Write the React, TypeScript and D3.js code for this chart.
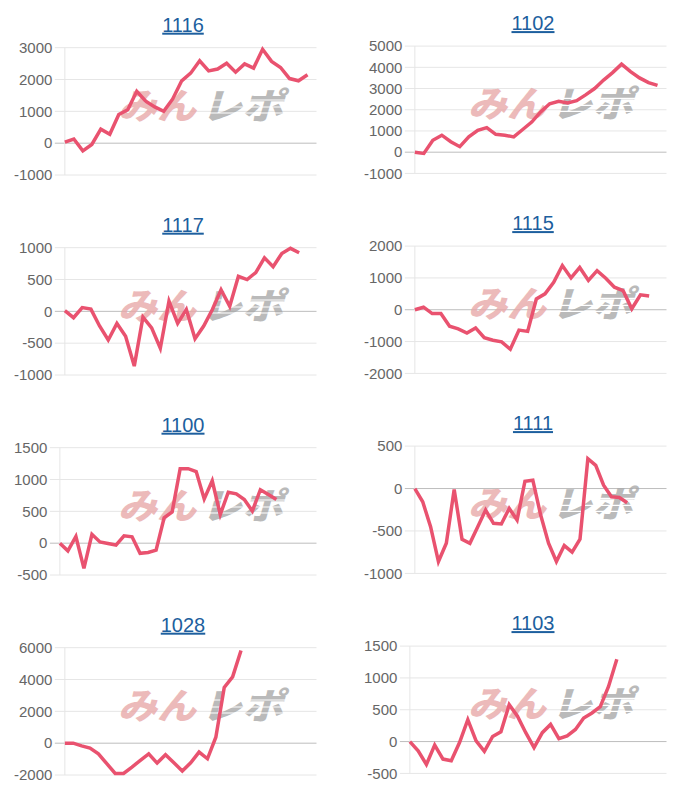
import React from 'react';
import * as d3 from 'd3';

// ---- data ----
const titles = ['1116', '1102', '1117', '1115', '1100', '1111', '1028', '1103'];

const s1116 = [30, 130, -240, -40, 440, 280, 900, 1050, 1630, 1320, 1140, 1000, 1390, 1960, 2200, 2590, 2270, 2330, 2510, 2230, 2490, 2360, 2950, 2570, 2380, 2030, 1960, 2150];
const s1102 = [0, -60, 560, 800, 490, 260, 720, 1030, 1160, 840, 800, 720, 1070, 1420, 1900, 2280, 2400, 2320, 2430, 2700, 3000, 3400, 3750, 4150, 3800, 3500, 3280, 3150];
const s1117 = [10, -100, 60, 35, -230, -450, -190, -390, -860, -90, -260, -580, 160, -190, 30, -430, -230, 30, 340, 80, 550, 500, 610, 840, 700, 910, 990, 920];
const s1115 = [0, 80, -120, -120, -520, -600, -730, -570, -880, -960, -1010, -1240, -640, -680, 340, 500, 860, 1390, 1000, 1330, 920, 1230, 990, 710, 600, 30, 470, 430];
const s1100 = [0, -120, 105, -395, 140, 20, -5, -30, 115, 100, -160, -145, -110, 400, 490, 1170, 1170, 1125, 695, 980, 450, 800, 775, 685, 505, 840, 765, 685];
const s1111 = [0, -156, -450, -860, -645, -12, -598, -645, -450, -254, -410, -418, -234, -371, 86, 98, -312, -645, -860, -672, -750, -598, 352, 273, 39, -98, -105, -168];
const s1028 = [0, 0, -170, -310, -670, -1290, -1900, -1900, -1500, -1080, -670, -1250, -730, -1230, -1750, -1230, -560, -980, 375, 3500, 4170, 5830];
const s1103 = [0, -145, -360, -55, -275, -300, -15, 345, 10, -155, 80, 155, 580, 400, 140, -95, 140, 270, 45, 90, 190, 370, 450, 550, 865, 1295];

const seriesList = [s1116, s1102, s1117, s1115, s1100, s1111, s1028, s1103];

const yMins = [-1000, -1000, -1000, -2000, -500, -1000, -2000, -500];
const yMaxs = [3000, 5000, 1000, 2000, 1500, 500, 6000, 1500];
const ySteps = [1000, 1000, 500, 1000, 500, 500, 2000, 500];
// number of x-axis (day) labels per chart (axis hidden)
const dayLabelCounts = [29, 29, 30, 30, 33, 33, 31, 32];

const FONT = "'Liberation Sans', Arial, Helvetica, sans-serif";
const LINE_COLOR = '#e9526f';
const TITLE_COLOR = '#1d5f9e';

function labelWidth(s: string, fs: number) {
  let w = 0;
  for (const c of s) w += c === '-' ? 0.333 * fs : 0.556 * fs;
  return w;
}

function Panel({ idx }: { idx: number }) {
  const col = idx % 2;
  const row = Math.floor(idx / 2);
  const ox = col * 350;
  const oy = row * 200 + (col === 1 ? -1.6 : 0);
  const top = 47.7;
  const bottom = 175;
  const fs = 15;
  const ticks = d3.range(yMins[idx], yMaxs[idx] + ySteps[idx] / 2, ySteps[idx]);
  const maxW = d3.max(ticks, (t) => labelWidth(String(t), fs)) as number;
  const labelStart = 14;
  const plotLeft = labelStart + maxW + 12.5;
  const plotRight = 316.5;
  const y = d3.scaleLinear().domain([yMins[idx], yMaxs[idx]]).range([bottom, top]);
  const x = d3.scaleLinear().domain([0, dayLabelCounts[idx] - 1]).range([plotLeft, plotRight]);
  const line = d3
    .line<number>()
    .x((_, i) => x(i))
    .y((d) => y(d));
  const data = seriesList[idx];
  const wmBase = 119;
  return (
    <g transform={`translate(${ox},${oy})`}>
      <text
        x={183}
        y={31.7}
        textAnchor="middle"
        fontFamily={FONT}
        fontSize={20}
        fill={TITLE_COLOR}
        textDecoration="underline"
      >
        {titles[idx]}
      </text>
      {ticks.map((t) => (
        <g key={t}>
          <line
            x1={plotLeft - 10}
            x2={plotRight}
            y1={y(t)}
            y2={y(t)}
            stroke={t === 0 ? '#bdbdbd' : '#e6e6e6'}
            strokeWidth={1}
          />
          <text
            x={plotLeft - 12.5}
            y={y(t)}
            dy="0.35em"
            textAnchor="end"
            fontFamily={FONT}
            fontSize={fs}
            fill="#666"
          >
            {t}
          </text>
        </g>
      ))}
      <line x1={plotLeft} x2={plotLeft} y1={top} y2={bottom} stroke="#e6e6e6" strokeWidth={1} />
      {/* watermark */}
      <g opacity={0.8} fontFamily="'Noto Sans CJK JP', sans-serif" fontWeight={900} fontStyle="italic">
        <text x={118} y={wmBase} fontSize={36} fill="#e8a9a9" textLength={78} lengthAdjust="spacingAndGlyphs">
          みん
        </text>
        <text x={201} y={wmBase} fontSize={36} fill="#a9a9a9" textLength={82} lengthAdjust="spacingAndGlyphs">
          レポ
        </text>
        {[100, 107, 113].map((sy) => (
          <line key={sy} x1={200} x2={290} y1={sy} y2={sy} stroke="#fff" strokeWidth={1.2} />
        ))}
      </g>
      <path d={line(data) || ''} fill="none" stroke={LINE_COLOR} strokeWidth={3.5} strokeLinejoin="miter" />
    </g>
  );
}

export default function App() {
  return (
    <svg
      width={700}
      height={800}
      style={{ position: 'absolute', left: 0, top: 0, background: '#fff' }}
    >
      <rect width={700} height={800} fill="#fff" />
      {titles.map((_, i) => (
        <Panel key={i} idx={i} />
      ))}
    </svg>
  );
}
